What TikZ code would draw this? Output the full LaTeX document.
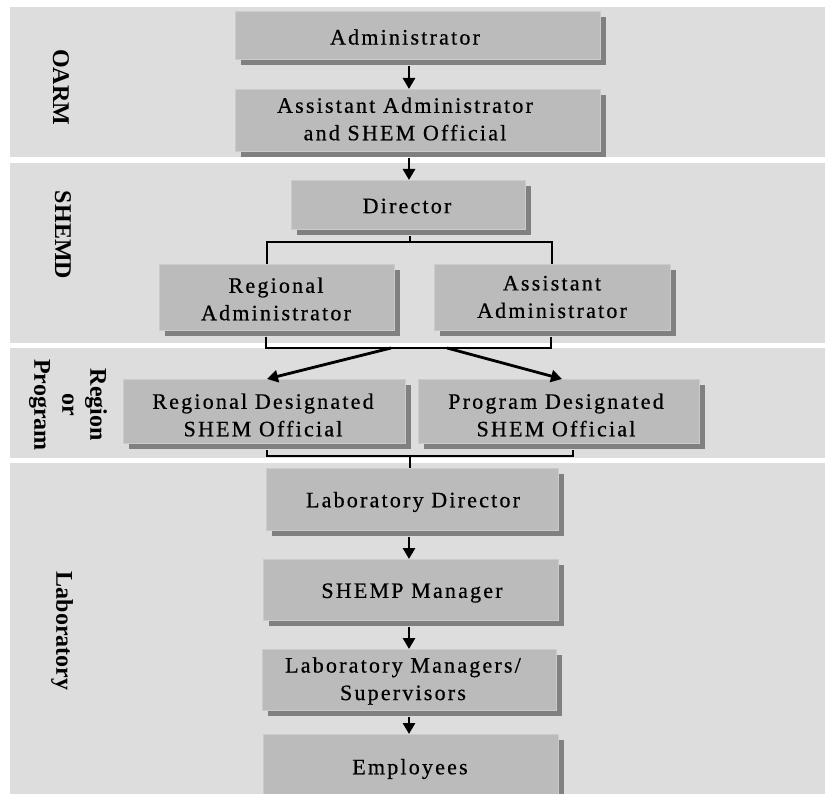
\documentclass[tikz,border=0pt]{standalone}
\usepackage{fontspec}
\setmainfont{Liberation Serif}
\newfontfamily\boxfont[LetterSpace=10,FakeBold=0.6,Ligatures=NoCommon]{Liberation Serif}
\newfontfamily\lblfont{Liberation Serif}
\usetikzlibrary{arrows.meta,shadows,calc}
\definecolor{bandgray}{RGB}{221,221,221}
\definecolor{boxgray}{RGB}{187,187,187}
\definecolor{boxedge}{RGB}{203,203,203}
\definecolor{shadegray}{RGB}{128,128,128}
\begin{document}
\begin{tikzpicture}[x=1pt,y=-1pt,
  box/.style={rectangle, fill=boxgray, draw=boxedge, line width=0.8pt, inner sep=0pt, anchor=north west,
    drop shadow={shadow xshift=6pt, shadow yshift=-6pt, fill=shadegray, opacity=1}},
  txt/.style={inner sep=0pt, align=center, font=\boxfont\fontsize{22}{27.5}\selectfont},
  lbl/.style={inner sep=0pt, align=center, rotate=-90, font=\lblfont\bfseries\fontsize{24}{28}\selectfont},
  con/.style={line width=2.8pt, line join=miter},
  arr/.style={con, -{Triangle[length=11pt,width=12pt]}}]
\useasboundingbox (0,0) rectangle (825,794);
% bands
\fill[white] (0,0) rectangle (825,794);
\fill[bandgray] (10,7) rectangle (830,157);
\fill[bandgray] (10,163) rectangle (830,343);
\fill[bandgray] (10,348) rectangle (830,458);
\fill[bandgray] (10,463) rectangle (830,800);
% band labels
\node[lbl] (oarmL) at (61,87) {OARM};
\node[lbl] (shemdL) at (63,235) {SHEMD};
\node[lbl] (regL) at (68,405) {Region\\or\\Program};
\node[lbl] (labL) at (62,631) {Laboratory};
% boxes
\node[box, minimum width=365pt, minimum height=48pt] (adm) at (235,11) {};
\node[box, minimum width=365pt, minimum height=62pt] (asst) at (235,89) {};
\node[box, minimum width=234pt, minimum height=49pt] (dir) at (291,180) {};
\node[box, minimum width=235pt, minimum height=66pt] (ra) at (159,264) {};
\node[box, minimum width=236pt, minimum height=66pt] (aa) at (434,264) {};
\node[box, minimum width=282pt, minimum height=64pt] (rd) at (123,379) {};
\node[box, minimum width=281pt, minimum height=64pt] (pd) at (418,379) {};
\node[box, minimum width=292pt, minimum height=62pt] (ld) at (266,468) {};
\node[box, minimum width=295pt, minimum height=61pt] (sm) at (263,559) {};
\node[box, minimum width=294pt, minimum height=61pt] (lm) at (262,649) {};
\node[box, minimum width=295pt, minimum height=75pt] (emp) at (263,734) {};
% box texts
\node[txt] (admT) at (405,37) {Administrator};
\node[txt] (asstT) at (405,119) {Assistant Administrator\\and SHEM Official};
\node[txt] (dirT) at (407,206) {Director};
\node[txt] (raT) at (276,299) {Regional\\Administrator};
\node[txt] (aaT) at (552,297) {Assistant\\Administrator};
\node[txt] (rdT) at (263,415) {Regional Designated\\SHEM Official};
\node[txt] (pdT) at (556,415) {Program Designated\\SHEM Official};
\node[txt] (ldT) at (413,502) {Laboratory Director};
\node[txt] (smT) at (412,593) {SHEMP Manager};
\node[txt] (lmT) at (403,681) {Laboratory Managers/\\Supervisors};
\node[txt] (empT) at (410,769) {Employees};
% connectors
\coordinate (sp) at (409,0);
\draw[arr] ($(adm.south -| sp)+(0,6)$) -- (asst.north -| sp);
\draw[arr] ($(asst.south -| sp)+(0,6)$) -- (dir.north -| sp);
\coordinate (b1) at (410,242);
\coordinate (bl) at (267,242);
\coordinate (br) at (552,242);
\draw[con] ($(dir.south -| b1)+(0,6)$) -- (b1);
\draw[con] (ra.north -| bl) -- (bl) -- (br) -- (aa.north -| br);
\coordinate (cl) at (266,348);
\coordinate (cr) at (551,348);
\coordinate (c1) at (391,348);
\coordinate (c2) at (447,348);
\coordinate (t1) at (267,0);
\coordinate (t2) at (562,0);
\draw[con] ($(ra.south -| cl)+(0,6)$) -- (cl) -- (cr) -- ($(aa.south -| cr)+(0,6)$);
\draw[arr] (c1) -- (rd.north -| t1);
\draw[arr] (c2) -- (pd.north -| t2);
\coordinate (dl) at (267,456);
\coordinate (dr) at (573,456);
\coordinate (dm) at (410,456);
\draw[con] ($(rd.south -| dl)+(0,6)$) -- (dl) -- (dr) -- ($(pd.south -| dr)+(0,6)$);
\draw[con] (dm) -- (ld.north -| dm);
\draw[arr] ($(ld.south -| sp)+(0,6)$) -- (sm.north -| sp);
\draw[arr] ($(sm.south -| sp)+(0,6)$) -- (lm.north -| sp);
\draw[arr] ($(lm.south -| sp)+(0,6)$) -- (emp.north -| sp);
\end{tikzpicture}
\end{document}
